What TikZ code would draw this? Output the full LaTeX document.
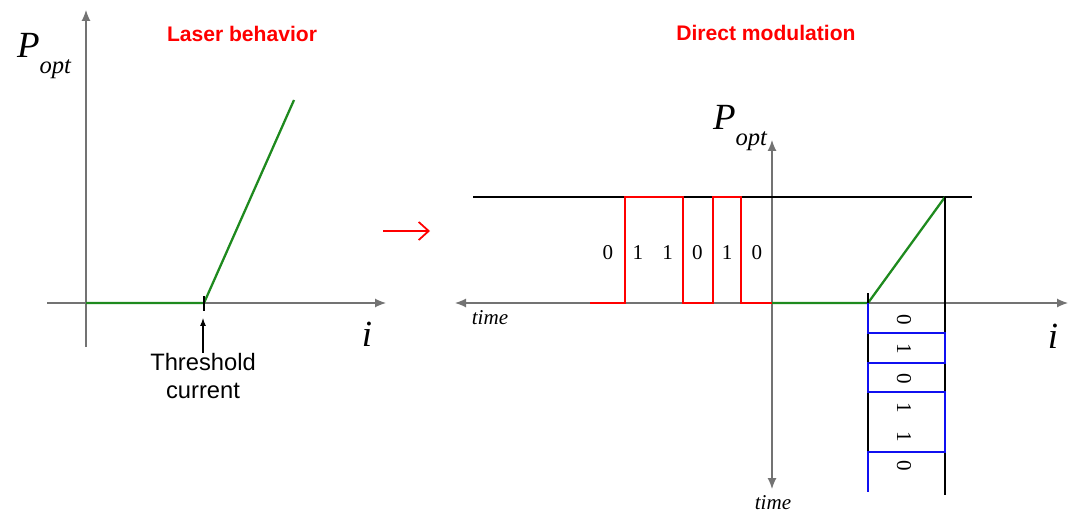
\documentclass[tikz,border=0pt]{standalone}
\usepackage{fontspec}
\setmainfont{Liberation Serif}
\newfontfamily\labelfont{Liberation Sans}
\usepackage{tikz}
\usetikzlibrary{arrows.meta,positioning,calc}
\definecolor{laserred}{HTML}{FF0000}
\definecolor{curvegreen}{HTML}{1E8A1E}
\definecolor{bitblue}{HTML}{1010F0}
\tikzset{
  ax/.style={draw=black!55, line width=0.7pt},
  axarr/.style={ax, -{Latex[length=2.2mm,width=1.8mm]}},
  axboth/.style={ax, {Latex[length=2.2mm,width=1.8mm]}-{Latex[length=2.2mm,width=1.8mm]}},
  curve/.style={draw=curvegreen, line width=1.3pt},
  sig/.style={draw=laserred, line width=0.8pt},
  bits/.style={draw=bitblue, line width=0.8pt},
  guide/.style={draw=black, line width=0.6pt},
  title/.style={font=\labelfont\bfseries\fontsize{12}{14}\selectfont, text=laserred},
  plabel/.style={font=\fontsize{21}{24}\selectfont\itshape, inner sep=0pt},
  tlabel/.style={font=\fontsize{12}{14}\selectfont\itshape, inner sep=0pt},
  bit/.style={font=\fontsize{12}{14}\selectfont, inner sep=0pt},
  note/.style={font=\labelfont\fontsize{13.5}{16}\selectfont, align=center, inner sep=0pt}
}
\newcommand{\popt}{P\raisebox{-0.9ex}{\fontsize{14}{16}\selectfont opt}}
\begin{document}
\begin{tikzpicture}[x=0.02cm, y=-0.02cm]
  \path[use as bounding box] (0,0) rectangle (1075,513);

  % left: laser behaviour
  \coordinate (lo) at (86,303);
  \coordinate (lbot) at (86,347);
  \coordinate (ltop) at (86,10);
  \coordinate (lleft) at (47,303);
  \coordinate (lright) at (386,303);
  \coordinate (thr) at (204,303);
  \coordinate (lpeak) at (294,100);
  \coordinate (thrhi) at (204,296);
  \coordinate (thrlo) at (204,311);
  \draw[axarr] (lbot) -- (ltop);
  \draw[axarr] (lleft) -- (lright);
  \draw[curve] (lo) -- (thr) -- (lpeak);
  \draw[guide] (thrhi) -- (thrlo);
  \node[note] (thrtxt) at (203,376) {Threshold\\current};
  \coordinate (thrarr) at (203,318);
  \draw[-{Latex[length=1.6mm,width=1.2mm]}, line width=0.6pt] (thrtxt.north) -- (thrarr);
  \node[plabel] (lp) at (44,56) {\popt};
  \node[plabel] (li) at (367,334) {i};
  \node[title] (ltitle) at (242,34) {Laser behavior};

  % arrow between
  \coordinate (mleft) at (383,231);
  \coordinate (mright) at (430,231);
  \draw[laserred, line width=1pt, -{Straight Barb[length=2mm,width=3.6mm]}] (mleft) -- (mright);

  % right: direct modulation
  \coordinate (ro) at (772,303);
  \coordinate (rtop) at (772,140);
  \coordinate (rbot) at (772,489);
  \coordinate (rleft) at (455,303);
  \coordinate (rright) at (1068,303);
  \draw[axboth] (rtop) -- (rbot);
  \draw[axboth] (rleft) -- (rright);
  \coordinate (hl) at (473,197);
  \coordinate (hr) at (972,197);
  \draw[guide] (hl) -- (hr);
  \draw[sig] (590,303) -- (625,303) -- (625,197) -- (683,197) -- (683,303)
    -- (713,303) -- (713,197) -- (741,197) -- (741,303) -- (ro);
  \coordinate (rthr) at (868,303);
  \coordinate (rpeak) at (945,197);
  \draw[curve] (ro) -- (rthr) -- (rpeak);
  \coordinate (vl1) at (868,293);
  \coordinate (vl2) at (868,492);
  \coordinate (vr2) at (945,495);
  \draw[guide] (vl1) -- (vl2);
  \draw[guide] (rpeak) -- (vr2);
  \draw[bits] (rthr) -- (868,333) -- (945,333) -- (945,363) -- (868,363)
    -- (868,392) -- (945,392) -- (945,452) -- (868,452) -- (868,492);
  \foreach \b [count=\k] in {0,1,1,0,1,0}
    \node[bit] (tb\k) at ({608+29.8*(\k-1)},253) {\b};
  \foreach \b [count=\k] in {0,1,0,1,1,0}
    \node[bit, rotate=-90] (ib\k) at (904,{320+29.2*(\k-1)}) {\b};
  \node[plabel] (rp) at (740,128) {\popt};
  \node[tlabel] (rtl) at (490,318) {time};
  \node[tlabel] (rtb) at (773,503) {time};
  \node[plabel] (ri) at (1053,336) {i};
  \node[title] (rtitle) at (766,33) {Direct modulation};
\end{tikzpicture}
\end{document}
